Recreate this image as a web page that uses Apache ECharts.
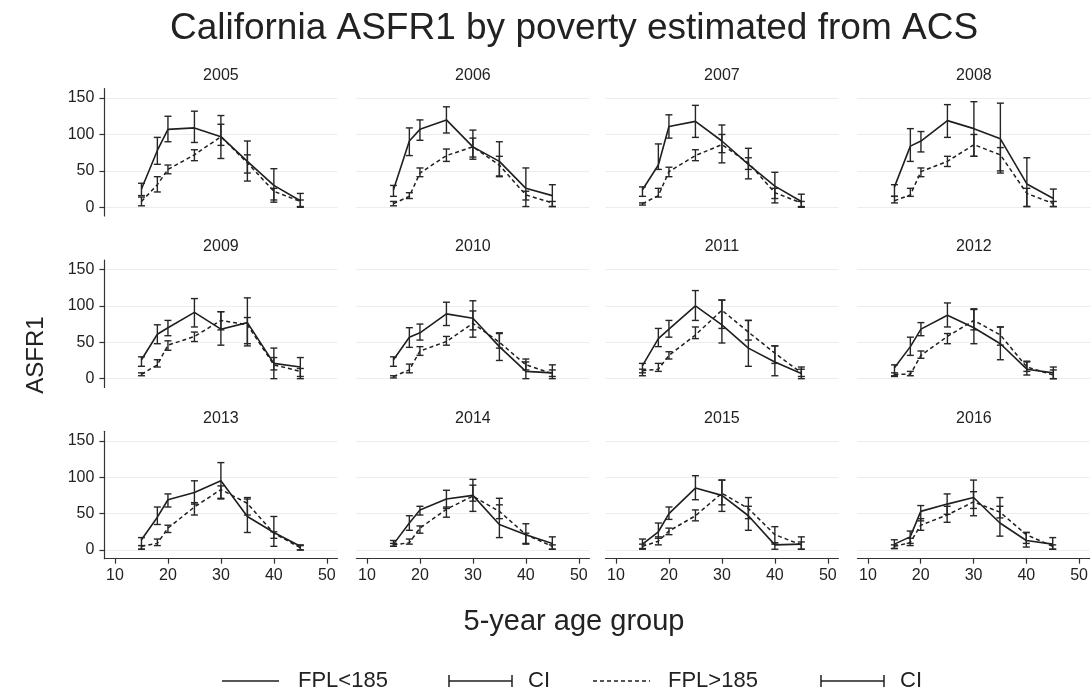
<!DOCTYPE html>
<html>
<head>
<meta charset="utf-8">
<script src="https://cdn.jsdelivr.net/npm/echarts@6/dist/echarts.min.js"></script>
<style>
  html, body { margin: 0; padding: 0; background: #ffffff; }
  #chart { width: 1091px; height: 696px; }
</style>
</head>
<body>
<div id="chart"></div>
<script>
// Panel years and the age groups on the horizontal axis
const years = ['2005', '2006', '2007', '2008', '2009', '2010', '2011', '2012', '2013', '2014', '2015', '2016'];
const ages = [15, 18, 20, 25, 30, 35, 40, 45];
const xTicks = [10, 20, 30, 40, 50];
const yTicks = [0, 50, 100, 150];

// FPL<185: rate and confidence interval, one row per year
const belowMean = [
  [25, 78, 107, 109, 97, 63, 30, 9],
  [24, 91, 107, 120, 83, 63, 26, 16],
  [24, 58, 111, 118, 91, 59, 29, 8],
  [28, 84, 91, 119, 108, 94, 32, 12],
  [26, 61, 70, 91, 68, 77, 21, 16],
  [26, 57, 63, 89, 83, 44, 10, 8],
  [18, 55, 68, 100, 74, 42, 23, 7],
  [15, 44, 68, 87, 70, 48, 13, 8],
  [14, 45, 69, 79, 95, 46, 24, 5],
  [8, 37, 55, 70, 75, 35, 21, 9],
  [8, 25, 50, 85, 75, 47, 7, 8],
  [8, 18, 53, 63, 72, 37, 13, 8]
];
const belowLo = [
  [16, 59, 90, 89, 67, 36, 10, 0],
  [15, 71, 92, 102, 66, 42, 1, 1],
  [15, 52, 95, 96, 61, 39, 6, 0],
  [15, 63, 76, 96, 70, 47, 1, 1],
  [17, 48, 59, 71, 46, 45, 0, 0],
  [17, 43, 53, 73, 57, 25, 0, 0],
  [4, 44, 57, 80, 49, 17, 4, 0],
  [3, 32, 59, 71, 48, 26, 5, 0],
  [1, 35, 59, 63, 71, 24, 5, 0],
  [5, 27, 48, 57, 53, 17, 8, 1],
  [1, 16, 42, 69, 53, 27, 1, 1],
  [2, 9, 40, 49, 47, 19, 4, 1]
];
const belowHi = [
  [33, 96, 125, 132, 126, 91, 53, 19],
  [30, 109, 120, 138, 106, 90, 54, 31],
  [28, 87, 127, 140, 113, 81, 48, 18],
  [31, 108, 104, 141, 145, 143, 68, 25],
  [30, 74, 80, 110, 92, 111, 42, 29],
  [30, 70, 75, 105, 107, 63, 23, 19],
  [21, 69, 80, 121, 108, 80, 45, 16],
  [19, 57, 77, 104, 95, 71, 24, 16],
  [17, 59, 77, 95, 120, 72, 46, 7],
  [13, 47, 60, 82, 97, 71, 36, 18],
  [15, 37, 59, 102, 96, 60, 10, 18],
  [14, 26, 61, 77, 96, 72, 24, 17]
];

// FPL>185: rate and confidence interval, one row per year
const aboveMean = [
  [8, 31, 52, 72, 97, 61, 22, 8],
  [5, 15, 47, 71, 83, 58, 17, 6],
  [5, 16, 49, 71, 86, 61, 20, 6],
  [9, 17, 49, 63, 86, 72, 19, 5],
  [6, 19, 46, 58, 80, 74, 19, 10],
  [3, 12, 38, 51, 76, 50, 19, 7],
  [11, 13, 32, 60, 94, 64, 35, 8],
  [6, 6, 32, 58, 80, 60, 16, 5],
  [5, 9, 30, 59, 83, 64, 23, 3],
  [7, 10, 30, 56, 74, 53, 21, 5],
  [5, 12, 26, 47, 78, 57, 21, 7],
  [5, 10, 34, 48, 66, 52, 21, 5]
];
const aboveLo = [
  [2, 21, 46, 64, 85, 47, 7, 1],
  [2, 12, 42, 63, 69, 43, 10, 1],
  [3, 14, 42, 64, 75, 52, 12, 1],
  [6, 15, 42, 56, 70, 50, 1, 1],
  [4, 16, 39, 51, 67, 48, 12, 3],
  [1, 8, 32, 46, 67, 42, 12, 3],
  [8, 10, 27, 55, 69, 53, 21, 3],
  [4, 4, 28, 48, 67, 46, 10, 0],
  [1, 6, 24, 48, 70, 48, 16, 0],
  [5, 8, 23, 45, 67, 43, 9, 1],
  [2, 7, 21, 40, 62, 43, 8, 1],
  [2, 6, 27, 38, 57, 44, 9, 1]
];
const aboveHi = [
  [14, 42, 58, 79, 114, 72, 26, 10],
  [8, 20, 54, 80, 95, 70, 22, 8],
  [6, 26, 55, 79, 100, 68, 26, 8],
  [15, 26, 54, 70, 100, 82, 26, 8],
  [8, 26, 52, 64, 92, 84, 29, 14],
  [4, 20, 44, 58, 93, 62, 27, 12],
  [13, 21, 37, 71, 108, 80, 45, 13],
  [8, 10, 38, 62, 96, 71, 23, 12],
  [6, 15, 34, 65, 88, 70, 25, 6],
  [9, 15, 33, 59, 89, 62, 23, 7],
  [8, 18, 30, 55, 96, 72, 32, 11],
  [7, 16, 43, 60, 80, 60, 24, 7]
];

// ---- layout ----
const FONT = '"Liberation Sans", Arial, Helvetica, sans-serif';
const INK = '#222222';
const colLeft = [104.4, 356.4, 605.4, 857.4];
const rowTop = [88.6, 260, 431.3];
const panelW = 233;
const panelH = 127.4;
const centerX = 574;

// Vertical error bar with short caps at both ends
function ciItem(params, api) {
  const x = api.value(0);
  const lo = api.coord([x, api.value(1)]);
  const hi = api.coord([x, api.value(2)]);
  const w = 3.5;
  const style = { stroke: '#262626', lineWidth: 1.4 };
  return {
    type: 'group',
    children: [
      { type: 'line', shape: { x1: lo[0], y1: lo[1], x2: hi[0], y2: hi[1] }, style: style },
      { type: 'line', shape: { x1: lo[0] - w, y1: lo[1], x2: lo[0] + w, y2: lo[1] }, style: style },
      { type: 'line', shape: { x1: hi[0] - w, y1: hi[1], x2: hi[0] + w, y2: hi[1] }, style: style }
    ]
  };
}

const grids = [], xAxes = [], yAxes = [], series = [], titles = [];

titles.push({
  text: 'California ASFR1 by poverty estimated from ACS',
  left: centerX, top: 10, textAlign: 'center', padding: 0,
  textStyle: { fontFamily: FONT, fontSize: 37, fontWeight: 'normal', color: INK }
});

years.forEach(function (yr, i) {
  const r = Math.floor(i / 4), c = i % 4;
  const bottomRow = r === 2, leftCol = c === 0;
  grids.push({ left: colLeft[c], top: rowTop[r], width: panelW, height: panelH, containLabel: false });
  titles.push({
    text: yr,
    left: colLeft[c] + panelW / 2, top: rowTop[r] - 21, textAlign: 'center', padding: 0,
    textStyle: { fontFamily: FONT, fontSize: 16, fontWeight: 'normal', color: INK }
  });
  xAxes.push({
    type: 'value', gridIndex: i, min: 8, max: 52,
    axisLine: { show: bottomRow, onZero: false, lineStyle: { color: '#333', width: 1.2 } },
    axisTick: { show: bottomRow, customValues: xTicks, length: 5, lineStyle: { color: '#333', width: 1.2 } },
    axisLabel: { show: bottomRow, customValues: xTicks, margin: 9, fontFamily: FONT, fontSize: 16, color: INK },
    splitLine: { show: false }
  });
  yAxes.push({
    type: 'value', gridIndex: i, min: -12, max: 163,
    axisLine: { show: leftCol, lineStyle: { color: '#333', width: 1.2 } },
    axisTick: { show: leftCol, customValues: yTicks, length: 5, lineStyle: { color: '#333', width: 1.2 } },
    axisLabel: { show: leftCol, customValues: yTicks, margin: 10, fontFamily: FONT, fontSize: 16, color: INK },
    splitLine: { show: true, lineStyle: { color: '#ededed', width: 1.2 } }
  });

  series.push({
    type: 'line', xAxisIndex: i, yAxisIndex: i, name: 'FPL<185',
    data: ages.map(function (a, j) { return [a, belowMean[i][j]]; }),
    showSymbol: false, symbol: 'none',
    lineStyle: { color: '#1f1f1f', width: 1.6, type: 'solid' }, z: 3
  });
  series.push({
    type: 'custom', xAxisIndex: i, yAxisIndex: i, name: 'CI below',
    data: ages.map(function (a, j) { return [a, belowLo[i][j], belowHi[i][j]]; }),
    encode: { x: 0, y: [1, 2] }, renderItem: ciItem, z: 4
  });
  series.push({
    type: 'line', xAxisIndex: i, yAxisIndex: i, name: 'FPL>185',
    data: ages.map(function (a, j) { return [a, aboveMean[i][j]]; }),
    showSymbol: false, symbol: 'none',
    lineStyle: { color: '#1f1f1f', width: 1.5, type: [4, 3] }, z: 3
  });
  series.push({
    type: 'custom', xAxisIndex: i, yAxisIndex: i, name: 'CI above',
    data: ages.map(function (a, j) { return [a, aboveLo[i][j], aboveHi[i][j]]; }),
    encode: { x: 0, y: [1, 2] }, renderItem: ciItem, z: 4
  });
});

// Axis names and the key along the bottom
const textStyle = function (txt, size) {
  return { text: txt, font: size + 'px ' + FONT, fill: INK, align: 'center', verticalAlign: 'middle' };
};
const keyY = 681;
const keyLine = { stroke: '#1f1f1f', lineWidth: 1.5 };
function ciKey(x1, x2) {
  return [
    { type: 'line', shape: { x1: x1, y1: keyY, x2: x2, y2: keyY }, style: keyLine },
    { type: 'line', shape: { x1: x1, y1: keyY - 6, x2: x1, y2: keyY + 6 }, style: keyLine },
    { type: 'line', shape: { x1: x2, y1: keyY - 6, x2: x2, y2: keyY + 6 }, style: keyLine }
  ];
}
const keyText = function (txt, x) {
  return { type: 'text', x: x, y: keyY, style: { text: txt, font: '22px ' + FONT, fill: INK, align: 'left', verticalAlign: 'middle' } };
};
const graphic = [
  { type: 'text', x: centerX, y: 622, style: textStyle('5-year age group', 29) },
  { type: 'text', x: 36, y: 355, rotation: Math.PI / 2, style: textStyle('ASFR1', 24) },
  { type: 'line', shape: { x1: 222, y1: keyY, x2: 279, y2: keyY }, style: keyLine },
  keyText('FPL<185', 298),
  keyText('CI', 528),
  { type: 'line', shape: { x1: 593, y1: keyY, x2: 650, y2: keyY }, style: { stroke: '#1f1f1f', lineWidth: 1.4, lineDash: [4, 3] } },
  keyText('FPL>185', 668),
  keyText('CI', 900)
].concat(ciKey(449, 512)).concat(ciKey(821, 884));

const chart = echarts.init(document.getElementById('chart'), null, { renderer: 'canvas' });
chart.setOption({
  animation: false,
  backgroundColor: '#ffffff',
  title: titles,
  grid: grids,
  xAxis: xAxes,
  yAxis: yAxes,
  series: series,
  graphic: graphic
});
</script>
</body>
</html>
